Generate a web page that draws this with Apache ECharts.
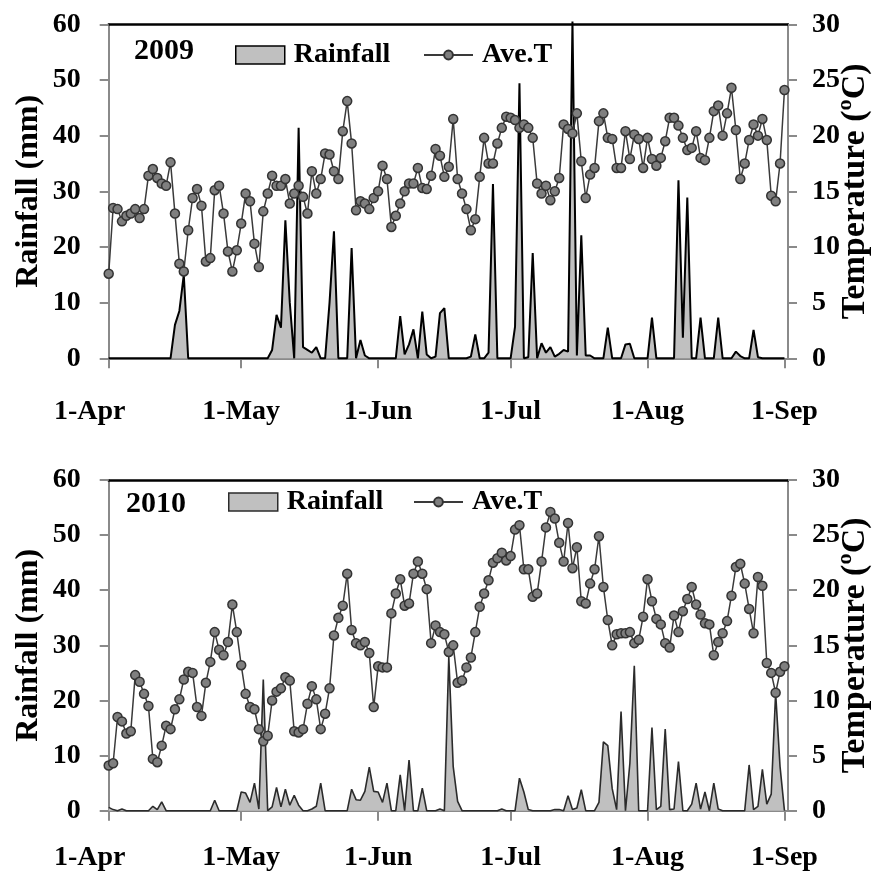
<!DOCTYPE html>
<html><head><meta charset="utf-8">
<script src="https://cdn.jsdelivr.net/npm/echarts@6/dist/echarts.min.js"></script>
<style>html,body{margin:0;padding:0;background:#fff;overflow:hidden}#c{width:888px;height:873px}</style>
</head><body><div id="c"></div>
<script>
// ---- data (day index 0 = 1-Apr, 153 = 1-Sep) ----
const tickLabels = ['1-Apr', '1-May', '1-Jun', '1-Jul', '1-Aug', '1-Sep'];
const tickDays = [0, 30, 61, 91, 122, 153];
const years = ['2009', '2010'];

const rain2009 = [
  0,0,0,0,0,0,0,0,0,0,
  0,0,0,0,0,6.0,8.5,15.0,0,0,
  0,0,0,0,0,0,0,0,0,0,
  0,0,0,0,0,0,0,1.5,7.8,5.5,
  24.8,10,0,41.4,2.0,1.5,1.0,2.0,0,0,
  10,22.8,0,0,0,19.8,0,3.3,0.5,0,
  0,0,0,0,0,0,7.6,0.7,2.5,5.2,
  0,8.4,0.7,0,0.3,8.1,9.0,0,0,0,
  0,0,0.3,4.3,0,0,1,31.3,0,0,
  0,0,5.7,49.4,0,0.2,18.9,0,2.7,1.0,
  2.0,0.3,0.8,1.5,1.2,60.5,0.5,22.1,0.5,0.5,
  0,0,0,5.5,0,0,0,2.5,2.6,0,
  0,0,0,7.3,0,0,0,0,0,32.0,
  3.7,28.9,0,0,7.3,0,0,0,7.3,0,
  0,0,1.2,0.4,0,0,5.1,0.2,0,0,
  0,0,0,0
];
const temp2009 = [
  7.6,13.5,13.4,12.3,12.8,13.0,13.4,12.6,13.4,16.4,
  17.0,16.2,15.7,15.5,17.6,13.0,8.5,7.8,11.5,14.4,
  15.2,13.7,8.7,9.0,15.1,15.5,13.0,9.6,7.8,9.7,
  12.1,14.8,14.1,10.3,8.2,13.2,14.8,16.4,15.5,15.5,
  16.1,13.9,14.8,15.5,14.5,13.0,16.8,14.8,16.1,18.4,
  18.3,16.8,16.1,20.4,23.1,19.3,13.3,14.1,13.9,13.4,
  14.4,15.0,17.3,16.1,11.8,12.8,13.9,15.0,15.7,15.7,
  17.1,15.3,15.2,16.4,18.8,18.2,16.3,17.2,21.5,16.1,
  14.8,13.4,11.5,12.5,16.3,19.8,17.5,17.5,19.3,20.7,
  21.7,21.6,21.4,20.7,21.0,20.7,19.8,15.7,14.8,15.5,
  14.2,15.0,16.2,21.0,20.6,20.2,22.0,17.7,14.4,16.5,
  17.1,21.3,22.0,19.8,19.7,17.1,17.1,20.4,17.9,20.1,
  19.7,17.1,19.8,17.9,17.3,18.0,19.5,21.6,21.6,20.9,
  19.8,18.7,18.9,20.4,18.0,17.8,19.8,22.2,22.7,20.0,
  22.0,24.3,20.5,16.1,17.5,19.6,21.0,20.0,21.5,19.6,
  14.6,14.1,17.5,24.1
];
const rain2010 = [
  0.6,0.2,0,0.3,0,0,0,0,0,0,
  0.8,0.2,1.6,0,0,0,0,0,0,0,
  0,0,0,0,1.9,0,0,0,0,0,
  3.4,3.2,1.5,5.0,0.3,23.8,0,0.7,4.2,0.7,
  3.9,1.0,2.8,1.0,0,0,0.3,0.8,5.0,0,
  0,0,0,0,0,3.9,2.0,1.9,3.5,7.9,
  3.5,3.4,1.5,5.0,0,0,6.5,0,9.2,0,
  0,4.1,0,0,0,0.3,0,27.9,8.0,1.7,
  0,0,0,0,0,0,0,0,0,0.3,
  0,0,0,5.9,3.4,0.2,0,0,0,0,
  0,0.2,0.2,0,2.7,0.2,0.5,3.8,0,0,
  0,1.5,12.5,11.8,4,0.2,18.0,0,8.6,26.3,
  0,0,0,15.1,0.2,0.8,14.8,0.2,0.3,8.9,
  0,0,1.2,5.0,0.3,3.4,0,5.0,0.3,0,
  0,0,0,0,0,8.3,0.2,0.8,7.5,1.2,
  3.0,21.4,8,0
];
const temp2010 = [
  4.1,4.3,8.5,8.1,7.0,7.2,12.3,11.7,10.6,9.5,
  4.7,4.4,5.9,7.7,7.4,9.2,10.1,11.9,12.6,12.5,
  9.4,8.6,11.6,13.5,16.2,14.6,14.1,15.3,18.7,16.2,
  13.2,10.6,9.4,9.2,7.4,6.3,6.8,10.0,10.8,11.1,
  12.1,11.8,7.2,7.1,7.4,9.7,11.3,10.1,7.4,8.8,
  11.1,15.9,17.5,18.6,21.5,16.4,15.2,15.0,15.3,14.3,
  9.4,13.1,13.0,13.0,17.9,19.7,21.0,18.6,18.8,21.5,
  22.6,21.5,20.1,15.2,16.8,16.2,16.0,14.4,15.0,11.6,
  11.8,13.0,13.9,16.2,18.5,19.7,20.9,22.5,22.9,23.4,
  22.7,23.1,25.5,25.9,21.9,21.9,19.4,19.7,22.6,25.7,
  27.1,26.5,24.3,22.6,26.1,22.0,23.9,19.0,18.8,20.6,
  21.9,24.9,20.3,17.3,15.0,16.0,16.1,16.1,16.2,15.2,
  15.5,17.6,21.0,19.0,17.4,16.9,15.2,14.8,17.7,16.2,
  18.1,19.2,20.3,18.7,17.8,17.0,16.9,14.1,15.3,16.1,
  17.2,19.5,22.1,22.4,20.6,18.3,16.1,21.2,20.4,13.4,
  12.5,10.7,12.6,13.1
];

// ---- styling / layout ----
const FONT = '"Liberation Serif", "Times New Roman", serif';
const GRAY = '#8a8a8a';
const FS = 28;
const txt = (size) => ({ fontFamily: FONT, fontWeight: 'bold', fontSize: size, color: '#000' });

const panels = [
  { top: 24.3, height: 334, rain: rain2009, temp: temp2009, rainLine: '#000', rainW: 2, labelMargin: 39,
    yearPos: [134, 36], legRect: [235, 41], legLine: [423, 41] },
  { top: 480, height: 330.7, rain: rain2010, temp: temp2010, rainLine: '#2b2b2b', rainW: 1.6, labelMargin: 33,
    yearPos: [126, 489], legRect: [228, 488], legLine: [413, 488] }
];

const option = {
  animation: false,
  backgroundColor: '#fff',
  grid: [], xAxis: [], yAxis: [], series: [], legend: [], title: []
};

panels.forEach((p, g) => {
  option.grid.push({ left: 108.7, top: p.top, width: 679.3, height: p.height,
    containLabel: false, outerBoundsMode: 'none' });
  option.xAxis.push({
    gridIndex: g, type: 'value', min: 0, max: 153.8, position: 'bottom',
    axisLine: { show: true, onZero: false, lineStyle: { color: GRAY, width: 2 } },
    axisTick: { show: true, customValues: tickDays, length: 10, lineStyle: { color: GRAY, width: 2 } },
    axisLabel: {
      customValues: tickDays, margin: p.labelMargin, ...txt(FS),
      formatter: v => {
        const k = tickDays.indexOf(v);
        return k === 0 ? '{first|' + tickLabels[k] + '}' : tickLabels[k];
      },
      rich: { first: { ...txt(FS), padding: [0, 38, 0, 0] } }
    },
    splitLine: { show: false }
  });
  option.xAxis.push({
    gridIndex: g, type: 'value', min: 0, max: 153.8, position: 'top',
    axisLine: { show: true, onZero: false, lineStyle: { color: '#000', width: 2.5 } },
    axisTick: { show: false }, axisLabel: { show: false }, splitLine: { show: false }
  });
  option.yAxis.push({
    gridIndex: g, type: 'value', min: 0, max: 60, interval: 10, position: 'left',
    axisLine: { show: true, onZero: false, lineStyle: { color: GRAY, width: 2 } },
    axisTick: { show: true, length: 9, lineStyle: { color: GRAY, width: 2 } },
    axisLabel: { margin: 28, ...txt(FS) },
    splitLine: { show: false },
    name: 'Rainfall (mm)', nameLocation: 'middle', nameRotate: 90, nameGap: 64,
    nameMoveOverlap: false,
    nameTextStyle: txt(32)
  });
  option.yAxis.push({
    gridIndex: g, type: 'value', min: 0, max: 30, interval: 5, position: 'right',
    axisLine: { show: true, onZero: false, lineStyle: { color: GRAY, width: 2 } },
    axisTick: { show: true, length: 9, lineStyle: { color: GRAY, width: 2 } },
    axisLabel: { margin: 24, ...txt(FS) },
    splitLine: { show: false },
    name: 'Temperature (ºC)', nameLocation: 'middle', nameRotate: 90, nameGap: 50,
    nameMoveOverlap: false,
    nameTextStyle: txt(34)
  });
  option.series.push({
    name: 'Rainfall', type: 'line', xAxisIndex: 2 * g, yAxisIndex: 2 * g,
    data: p.rain.map((v, i) => [i, v]), symbol: 'none', clip: false, z: 2,
    lineStyle: { color: p.rainLine, width: p.rainW },
    itemStyle: { color: '#c0c0c0', borderColor: p.rainLine },
    areaStyle: { color: '#c0c0c0', opacity: 1 }
  });
  option.series.push({
    name: 'Ave.T', type: 'line', xAxisIndex: 2 * g, yAxisIndex: 2 * g + 1,
    data: p.temp.map((v, i) => [i, v]), symbol: 'circle', symbolSize: 9, z: 3,
    lineStyle: { color: '#3a3a3a', width: 1.5 },
    itemStyle: { color: '#7f7f7f', borderColor: '#333', borderWidth: 1.5 }
  });
  option.title.push({ text: years[g], left: p.yearPos[0], top: p.yearPos[1], padding: 0, textStyle: txt(30) });
  option.legend.push({
    left: p.legRect[0], top: p.legRect[1], padding: 0, itemWidth: 49, itemHeight: 18, selectedMode: false,
    data: [{ name: 'Rainfall', icon: 'rect', itemStyle: { color: '#c0c0c0', borderColor: p.rainLine, borderWidth: 1.5 } }],
    textStyle: { ...txt(FS), padding: [0, 0, 0, 4] }
  });
  option.legend.push({
    left: p.legLine[0], top: p.legLine[1], padding: 0, itemWidth: 49, itemHeight: 11, selectedMode: false,
    data: [{ name: 'Ave.T' }],
    textStyle: { ...txt(FS), padding: [0, 0, 0, 4] }
  });
});

const chart = echarts.init(document.getElementById('c'));
chart.setOption(option);
</script>
</body></html>
